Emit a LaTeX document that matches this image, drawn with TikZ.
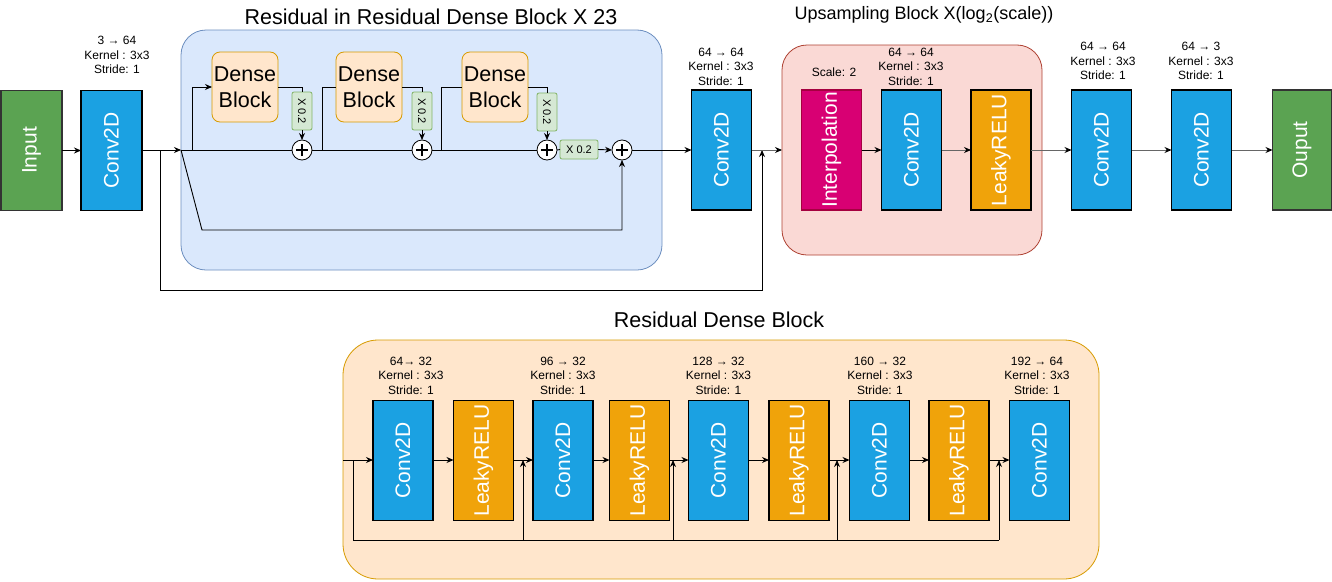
\documentclass[tikz,border=0pt]{standalone}
\usepackage{fontspec}
\setmainfont{Liberation Sans}
\usepackage{graphicx}
\usetikzlibrary{arrows.meta}
\definecolor{convblue}{HTML}{1BA1E2}
\definecolor{leaky}{HTML}{F0A30A}
\definecolor{interp}{HTML}{D80073}
\definecolor{interpd}{HTML}{A50040}
\definecolor{iogreen}{HTML}{5BA352}
\definecolor{rrdbfill}{HTML}{DAE8FC}
\definecolor{rrdbdraw}{HTML}{6C8EBF}
\definecolor{dbfill}{HTML}{FFE6CC}
\definecolor{dbdraw}{HTML}{D79B00}
\definecolor{xfill}{HTML}{D5E8D4}
\definecolor{xdraw}{HTML}{82B366}
\definecolor{upfill}{HTML}{FAD9D5}
\definecolor{updraw}{HTML}{AE4132}
\begin{document}
\begin{tikzpicture}[x=1pt,y=-1pt,
  blk/.style={draw=black, line width=1.5pt, minimum width=60pt, minimum height=120pt, inner sep=0pt, outer sep=0pt, text=white, font=\fontsize{21}{25}\selectfont},
  conv/.style={blk, fill=convblue},
  leakyb/.style={blk, fill=leaky},
  iob/.style={blk, fill=iogreen, draw=black!80},
  grp/.style={inner sep=0pt, outer sep=0pt, line width=0.8pt},
  dense/.style={draw=dbdraw, fill=dbfill, rounded corners=8pt, minimum width=66pt, minimum height=70pt, inner sep=0pt, outer sep=0pt, align=center, font=\fontsize{21.5}{26}\selectfont, line width=0.8pt},
  xbox/.style={draw=xdraw, fill=xfill, rounded corners=2pt, inner sep=0pt, outer sep=0pt, font=\fontsize{11}{13}\selectfont, line width=0.8pt},
  plusc/.style={circle, draw=black, fill=white, minimum size=20pt, inner sep=0pt, outer sep=0pt, line width=0.8pt,
    path picture={\draw[line width=1.5pt] ([xshift=-6pt]path picture bounding box.center) -- ([xshift=6pt]path picture bounding box.center);
                  \draw[line width=1.5pt] ([yshift=-6pt]path picture bounding box.center) -- ([yshift=6pt]path picture bounding box.center);}},
  lbl/.style={align=center, inner sep=0pt, font=\fontsize{12}{14.5}\selectfont},
  ttl/.style={inner sep=0pt, font=\fontsize{21.5}{26}\selectfont},
  ln/.style={line width=0.9pt, draw=black},
  arr/.style={ln, -{Stealth[length=7pt,width=6pt,color=black]}},
  garr/.style={arr, draw=black!60}
]
\useasboundingbox (0,0) rectangle (1332,581);

% ---------- group backgrounds ----------
\node[grp, draw=rrdbdraw, fill=rrdbfill, rounded corners=25pt, minimum width=481pt, minimum height=240pt] (rrdb) at (421.5,150) {};
\node[grp, draw=updraw, fill=upfill, rounded corners=25pt, minimum width=260pt, minimum height=210pt] (up) at (912,150) {};
\node[grp, draw=dbdraw, fill=dbfill, rounded corners=35pt, minimum width=756pt, minimum height=239pt] (rdb) at (721,459.5) {};

% ---------- titles ----------
\node[ttl] (t1) at (431,17) {Residual in Residual Dense Block X 23};
\node[ttl, font=\fontsize{18}{22}\selectfont] (t2) at (924,15) {Upsampling Block X(log\textsubscript{2}(scale))};
\node[ttl] (t3) at (719,320) {Residual Dense Block};

% ---------- top row ----------
\node[iob, minimum width=61pt] (inp) at (31.5,150.5) {\rotatebox{90}{Input}};
\node[conv, minimum width=61pt] (convA) at (111.5,150.5) {\rotatebox{90}{Conv2D}};
\node[lbl] (lA) at (117,55) {3 → 64\\Kernel : 3x3\\Stride: 1};

\node[dense] (db1) at (245,87) {Dense\\Block};
\node[dense] (db2) at (369,87) {Dense\\Block};
\node[dense] (db3) at (495,87) {Dense\\Block};
\node[xbox, minimum width=20pt, minimum height=38pt] (x1) at (302,111) {\rotatebox{-90}{X 0.2}};
\node[xbox, minimum width=20pt, minimum height=38pt] (x2) at (422,111) {\rotatebox{-90}{X 0.2}};
\node[xbox, minimum width=20pt, minimum height=38pt] (x3) at (547,112) {\rotatebox{-90}{X 0.2}};
\node[plusc] (p1) at (302,150) {};
\node[plusc] (p2) at (422,150) {};
\node[plusc] (p3) at (547,150) {};
\node[xbox, minimum width=38pt, minimum height=19pt] (xh) at (579,149.5) {X 0.2};
\node[plusc] (p4) at (622,150) {};

\node[conv] (convB) at (721.5,150) {\rotatebox{90}{Conv2D}};
\node[lbl] (lB) at (721,66.5) {64 → 64\\Kernel : 3x3\\Stride: 1};

\node[blk, fill=interp, draw=interpd, line width=1.2pt] (interp) at (831.5,150) {\rotatebox{90}{Interpolation}};
\node[lbl] (lI) at (834,72) {Scale: 2};
\node[conv] (convU) at (911.5,150) {\rotatebox{90}{Conv2D}};
\node[lbl] (lU) at (911,66.5) {64 → 64\\Kernel : 3x3\\Stride: 1};
\node[leakyb] (lrU) at (1001,150) {\rotatebox{90}{LeakyRELU}};

\node[conv] (convC) at (1101.5,150) {\rotatebox{90}{Conv2D}};
\node[lbl] (lC) at (1103,61) {64 → 64\\Kernel : 3x3\\Stride: 1};
\node[conv] (convD) at (1201.5,150) {\rotatebox{90}{Conv2D}};
\node[lbl] (lD) at (1201,61) {64 → 3\\Kernel : 3x3\\Stride: 1};
\node[iob, minimum width=59pt] (outp) at (1302,150) {\rotatebox{90}{Ouput}};

% ---------- top connectors ----------
\draw[arr] (inp.east) -- (convA.west);
\draw[arr] (convA.east |- rrdb.west) -- (rrdb.west);
\coordinate (s1) at (160,150);
\coordinate (s2) at (160,290);
\coordinate (s3) at (762,290);
\coordinate (jB) at (762,150);
\draw[arr] (s1) -- (s2) -- (s3) -- (jB);

\draw[ln] (rrdb.west) -- (p1.west);
\coordinate (d1) at (192,150);
\draw[arr] (d1) |- (db1.west);
\draw[ln] (db1.east) -| (x1.north);
\draw[arr] (x1.south) -- (p1.north);
\draw[ln] (p1.east) -- (p2.west);
\coordinate (d2) at (322,150);
\draw[ln] (d2) |- (db2.west);
\draw[ln] (db2.east) -| (x2.north);
\draw[arr] (x2.south) -- (p2.north);
\draw[ln] (p2.east) -- (p3.west);
\coordinate (d3) at (441,150);
\draw[ln] (d3) |- (db3.west);
\draw[ln] (db3.east) -| (x3.north);
\draw[arr] (x3.south) -- (p3.north);
\draw[ln] (p3.east) -- (xh.west);
\draw[arr] (xh.east) -- (p4.west);
\coordinate (k1) at (202,230);
\draw[arr] (rrdb.west) -- (k1) -| (p4.south);
\draw[arr] (p4.east) -- (convB.west);
\draw[garr] (convB.east) -- (up.west);
\draw[arr] (interp.east) -- (convU.west);
\draw[garr] (convU.east) -- (lrU.west);
\draw[garr] (lrU.east) -- (convC.west);
\draw[garr] (convC.east) -- (convD.west);
\draw[garr] (convD.east) -- (outp.west);

% ---------- bottom row ----------
\node[conv] (c1) at (403,460.5) {\rotatebox{90}{Conv2D}};
\node[leakyb] (l1) at (483.5,460.5) {\rotatebox{90}{LeakyRELU}};
\node[conv] (c2) at (563,460.5) {\rotatebox{90}{Conv2D}};
\node[leakyb] (l2) at (639.5,460.5) {\rotatebox{90}{LeakyRELU}};
\node[conv] (c3) at (718.5,460.5) {\rotatebox{90}{Conv2D}};
\node[leakyb] (l3) at (799,460.5) {\rotatebox{90}{LeakyRELU}};
\node[conv] (c4) at (879.5,460.5) {\rotatebox{90}{Conv2D}};
\node[leakyb] (l4) at (959,460.5) {\rotatebox{90}{LeakyRELU}};
\node[conv] (c5) at (1039.5,460.5) {\rotatebox{90}{Conv2D}};

\node[lbl] (m1) at (411,375.5) {64→ 32\\Kernel : 3x3\\Stride: 1};
\node[lbl] (m2) at (563,375.5) {96 → 32\\Kernel : 3x3\\Stride: 1};
\node[lbl] (m3) at (718.5,375.5) {128 → 32\\Kernel : 3x3\\Stride: 1};
\node[lbl] (m4) at (880,375.5) {160 → 32\\Kernel : 3x3\\Stride: 1};
\node[lbl] (m5) at (1037,375.5) {192 → 64\\Kernel : 3x3\\Stride: 1};

\coordinate (e0) at (343,460);
\coordinate (e1) at (353,460);
\coordinate (e2) at (353,540);
\coordinate (u1b) at (523,540); \coordinate (u1t) at (523,460);
\coordinate (u2b) at (673,540); \coordinate (u2t) at (673,460);
\coordinate (u3b) at (837,540); \coordinate (u3t) at (837,460);
\coordinate (u4b) at (999,540); \coordinate (u4t) at (999,460);

\draw[arr] (e0) -- (c1.west |- e0);
\draw[arr] (c1.east |- e0) -- (l1.west |- e0);
\draw[arr] (l1.east |- e0) -- (c2.west |- e0);
\draw[arr] (c2.east |- e0) -- (l2.west |- e0);
\draw[arr] (l2.east |- e0) -- (c3.west |- e0);
\draw[arr] (c3.east |- e0) -- (l3.west |- e0);
\draw[arr] (l3.east |- e0) -- (c4.west |- e0);
\draw[arr] (c4.east |- e0) -- (l4.west |- e0);
\draw[arr] (l4.east |- e0) -- (c5.west |- e0);
\draw[ln] (e1) -- (e2) -- (u4b);
\draw[arr] (u1b) -- (u1t);
\draw[arr] (u2b) -- (u2t);
\draw[arr] (u3b) -- (u3t);
\draw[arr] (u4b) -- (u4t);
\end{tikzpicture}
\end{document}
